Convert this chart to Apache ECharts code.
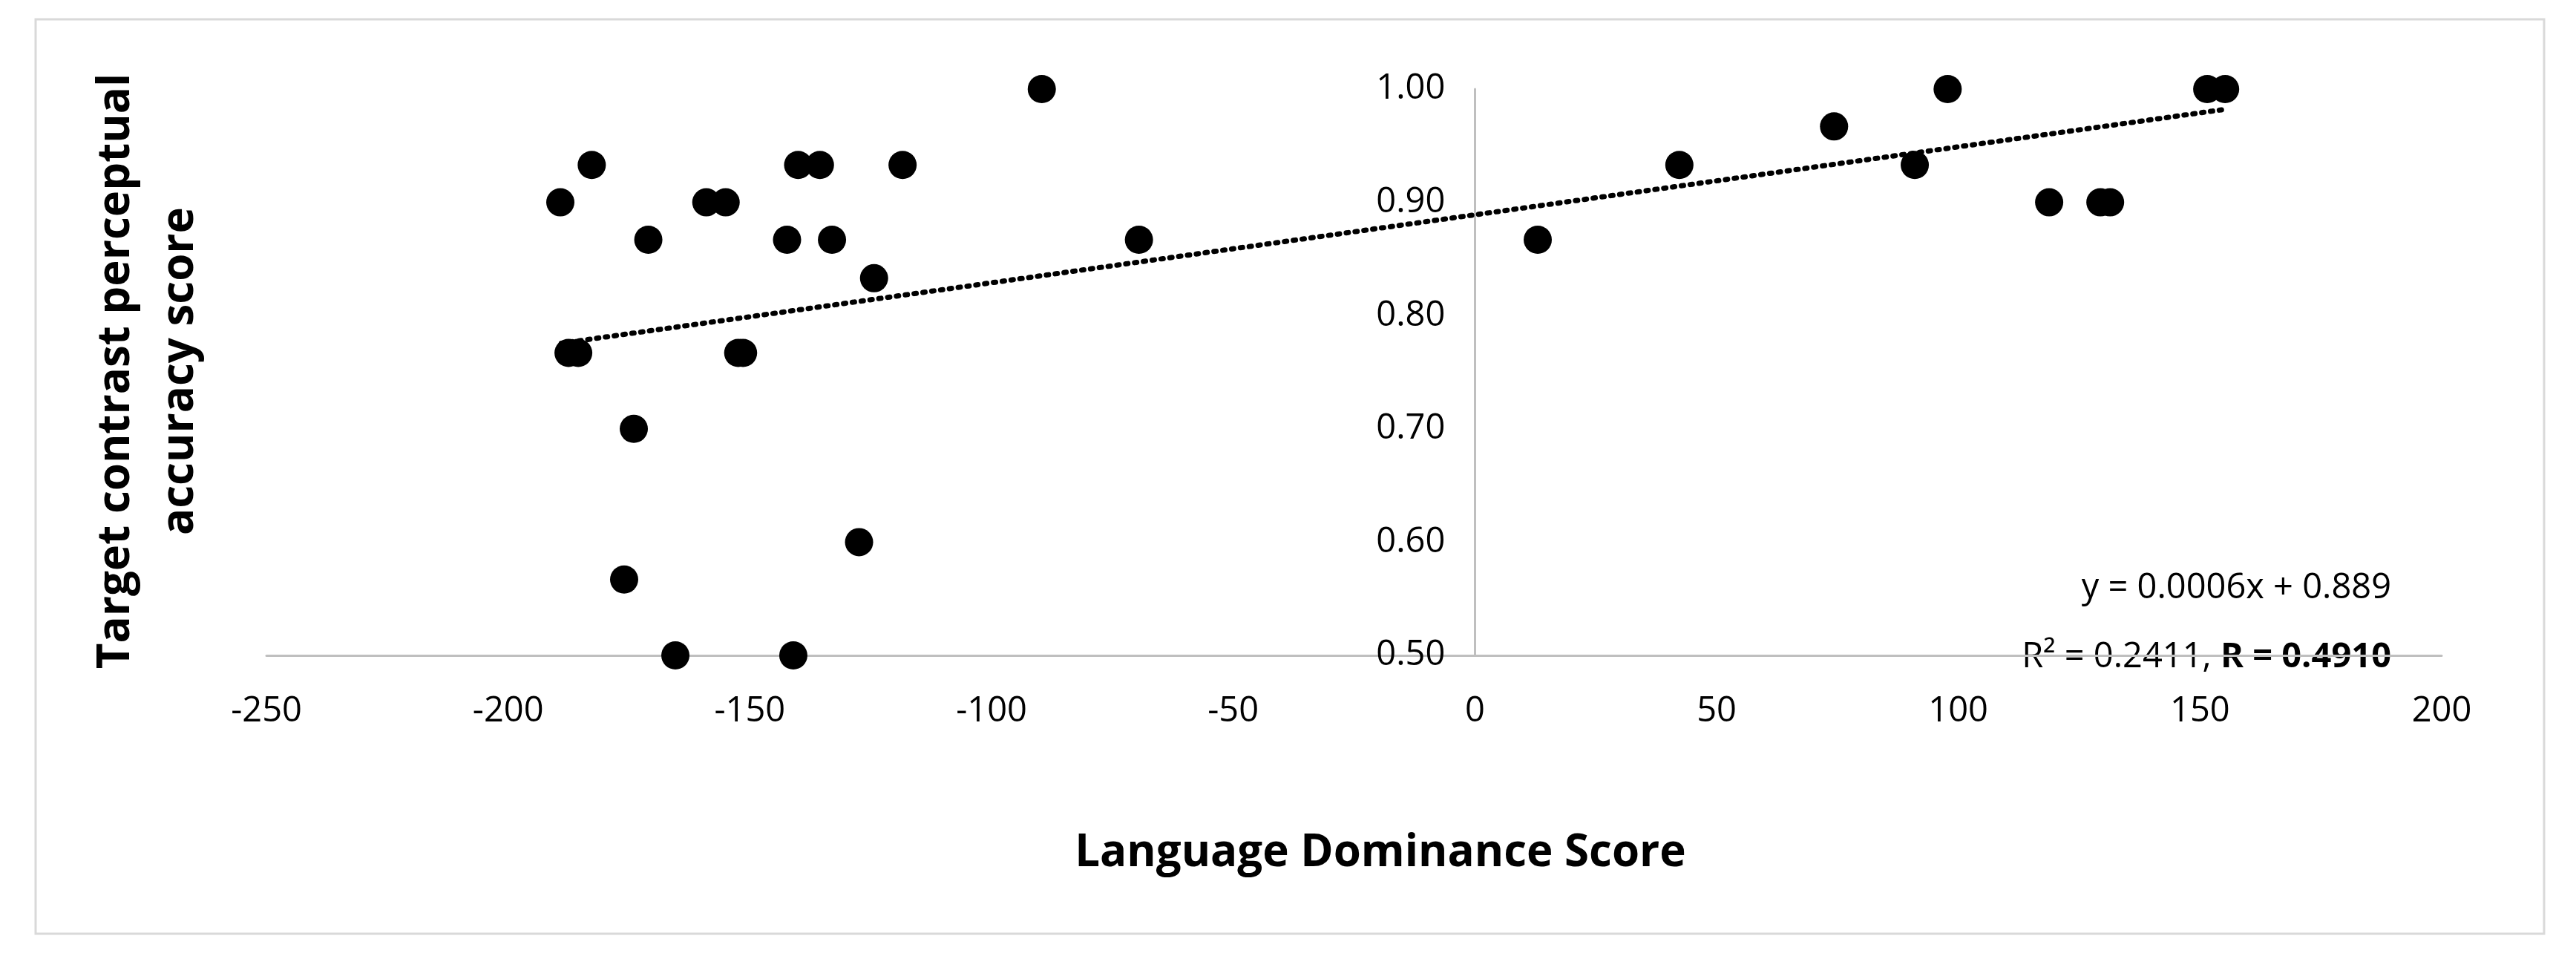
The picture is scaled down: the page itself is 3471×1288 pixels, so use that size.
<!DOCTYPE html>
<html><head><meta charset="utf-8">
<script src="https://cdn.jsdelivr.net/npm/echarts@6/dist/echarts.min.js"></script>
<style>html,body{margin:0;padding:0;background:#fff}#c{width:3471px;height:1288px}</style>
</head><body><div id="c"></div>
<script>
const xVals=[-189.2,-182.7,-187.5,-185.5,-171,-174,-176,-165.4,-159,-155,-152.4,-151.4,-142.3,-140,-135.5,-133,-141,-124.3,-127.4,-118.4,-89.6,-69.5,13,42.3,74.3,91,97.8,118.8,129.4,131.4,151.5,155.2];
const yVals=[0.9,0.933,0.767,0.767,0.867,0.7,0.567,0.5,0.9,0.9,0.767,0.767,0.867,0.933,0.933,0.867,0.5,0.833,0.6,0.933,1.0,0.867,0.867,0.933,0.967,0.933,1.0,0.9,0.9,0.9,1.0,1.0];
const trendX=[-189,155];
const trendY=[0.7756,0.982];
const xTicks=[-250,200,50];
const yTicks=[0.5,1.0,0.1];
const font='Open Sans';
const gridLeft=359, gridRight=181, W=3471;
const zeroOffset=(W-gridLeft-gridRight)*(0-xTicks[0])/(xTicks[1]-xTicks[0]);
const chart=echarts.init(document.getElementById('c'));
chart.setOption({
  animation:false,
  grid:{left:gridLeft,right:gridRight,top:120,bottom:405},
  xAxis:{type:'value',min:xTicks[0],max:xTicks[1],interval:xTicks[2],
    axisLine:{onZero:false,lineStyle:{color:'#bfbfbf',width:3}},axisTick:{show:false},splitLine:{show:false},
    axisLabel:{fontFamily:font,fontSize:47,color:'#000',margin:52}},
  yAxis:{type:'value',min:yTicks[0],max:yTicks[1],interval:yTicks[2],offset:-zeroOffset,
    axisLine:{onZero:false,lineStyle:{color:'#bfbfbf',width:3}},axisTick:{show:false},splitLine:{show:false},
    axisLabel:{fontFamily:font,fontSize:47,color:'#000',margin:40,formatter:v=>v.toFixed(2)}},
  series:[
    {type:'scatter',data:xVals.map((x,i)=>[x,yVals[i]]),symbolSize:38,itemStyle:{color:'#000',opacity:1},z:3},
    {type:'line',data:trendX.map((x,i)=>[x,trendY[i]]),symbol:'none',lineStyle:{color:'#000',width:7,type:[3,9],cap:'round'},z:2}
  ],
  graphic:[
    {type:'rect',shape:{x:48,y:26,width:3380,height:1232},style:{fill:'none',stroke:'#d9d9d9',lineWidth:3}},
    {type:'text',x:1860,y:1150,style:{text:'Language Dominance Score',font:'bold 60px "Open Sans"',fill:'#000',align:'center',verticalAlign:'middle'}},
    {type:'text',x:200,y:500,rotation:Math.PI/2,style:{text:'Target contrast perceptual\naccuracy score',font:'bold 60px "Open Sans"',fill:'#000',align:'center',verticalAlign:'middle',lineHeight:86}},
    {type:'text',x:3222,y:793,style:{text:'y = 0.0006x + 0.889',font:'47px "Open Sans"',fill:'#000',align:'right',verticalAlign:'middle'}},
    {type:'text',x:3222,y:886,style:{text:'{a|R² = 0.2411, }{b|R = 0.4910}',align:'right',verticalAlign:'middle',
      rich:{a:{fontFamily:font,fontSize:47,color:'#000'},b:{fontFamily:font,fontSize:47,fontWeight:'bold',color:'#000'}}}}
  ]
});
</script></body></html>
